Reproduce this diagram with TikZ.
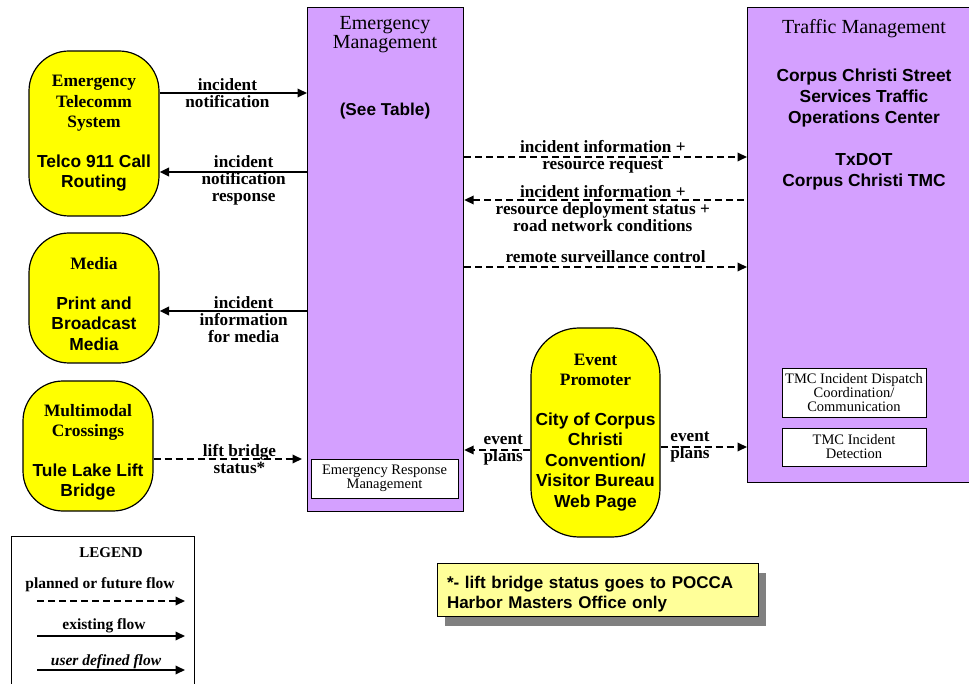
\documentclass[tikz,border=0pt]{standalone}
\usepackage{fontspec}
\setmainfont{Liberation Serif}
\setsansfont{Liberation Sans}
\usepackage{tikz}
\usetikzlibrary{arrows.meta, positioning, shadows}
\definecolor{subsystemcolor}{RGB}{212, 160, 255}
\definecolor{terminatorcolor}{RGB}{255, 255, 0}
\definecolor{notecolor}{RGB}{255, 255, 153}
\definecolor{shadowcolor}{RGB}{128, 128, 128}

\begin{document}
\begin{tikzpicture}[
    x=1pt, y=-1pt,
    subsystem/.style={draw, line width=1.2pt, fill=subsystemcolor, anchor=north west},
    terminator/.style={draw, line width=1.2pt, fill=terminatorcolor, rounded corners=40pt, minimum width=130pt, align=center, inner sep=2pt, font=\sffamily\bfseries\fontsize{17.4}{20.5}\selectfont},
    package/.style={draw, line width=0.8pt, fill=white, align=center, inner sep=1pt, font=\fontsize{14.5}{14}\selectfont},
    flow/.style={line width=2pt, -{Triangle[length=9.5pt, width=8.5pt]}},
    back/.style={line width=2pt, {Triangle[length=9.5pt, width=8.5pt]}-},
    planned/.style={flow, dash pattern=on 7pt off 4pt},
    plannedback/.style={back, dash pattern=on 7pt off 4pt},
    flowlabel/.style={align=center, inner sep=0pt, font=\bfseries\fontsize{17.2}{17}\selectfont},
]
    \clip (0,0) rectangle (969,684);

    % Subsystems
    \node[subsystem, minimum width=156pt, minimum height=504pt] (em) at (307,7) {};
    \node[font=\fontsize{20}{19}\selectfont, align=center] (emtitle) at (385,35) {Emergency\\Management};
    \node[font=\sffamily\bfseries\fontsize{17.2}{20}\selectfont] (emtable) at (385,111) {(See Table)};

    \node[subsystem, minimum width=235pt, minimum height=475pt] (tm) at (747,7) {};
    \node[font=\fontsize{20}{19}\selectfont] (tmtitle) at (864,28.5) {Traffic Management};
    \node[font=\sffamily\bfseries\fontsize{17.4}{21}\selectfont, align=center] (tmcenters) at (864,130) {Corpus Christi Street\\Services Traffic\\Operations Center\\[21pt]TxDOT\\Corpus Christi TMC};

    % Packages
    \node[package, minimum width=147pt, minimum height=39pt] (erm) at (384.5,478.5) {Emergency Response\\Management};
    \node[package, minimum width=144pt, minimum height=49pt] (dispatch) at (854,392.5) {TMC Incident Dispatch\\Coordination/\\Communication};
    \node[package, minimum width=144pt, minimum height=38pt] (detection) at (854,447) {TMC Incident\\Detection};

    % Terminators
    \node[terminator, minimum height=165pt] (telecomm) at (94,133.5) {\textrm{Emergency}\\\textrm{Telecomm}\\\textrm{System}\\[19pt]Telco 911 Call\\Routing};
    \node[terminator, minimum height=130pt] (media) at (94,298) {\mbox{}\\[4pt]\textrm{Media}\\[19pt]Print and\\Broadcast\\Media};
    \node[terminator, minimum height=130pt] (crossing) at (88,446) {\mbox{}\\[4pt]\textrm{Multimodal}\\\textrm{Crossings}\\[19pt]Tule Lake Lift\\Bridge};
    \node[terminator, minimum width=129pt, minimum height=209pt, rounded corners=48pt] (promoter) at (595.5,432.5) {\textrm{Event}\\\textrm{Promoter}\\[19pt]City of Corpus\\Christi\\Convention/\\Visitor Bureau\\Web Page};

    % Flows
    \draw[flow] ([yshift=40.5pt]telecomm.east) coordinate (n1) -- (n1 -| em.west) node[flowlabel, pos=0.46] {incident\\notification};
    \draw[back] ([yshift=-38.5pt]telecomm.east) coordinate (n2) -- (n2 -| em.west) node[flowlabel, pos=0.57, yshift=-8.5pt] {incident\\notification\\response};
    \draw[back] ([yshift=-13pt]media.east) coordinate (n3) -- (n3 -| em.west) node[flowlabel, pos=0.57, yshift=-8.5pt] {incident\\information\\for media};
    \draw[planned, shorten >=5pt] ([yshift=-13pt]crossing.east) coordinate (n4) -- (n4 -| em.west) node[flowlabel, pos=0.56] {lift bridge\\status*};

    \draw[planned] ([yshift=-150pt]em.north east) coordinate (r1) -- (r1 -| tm.west) node[flowlabel, pos=0.49] {incident information +\\resource request};
    \draw[plannedback] ([yshift=-193pt]em.north east) coordinate (r2) -- (r2 -| tm.west) node[flowlabel, pos=0.49, yshift=-8.5pt] {incident information +\\resource deployment status +\\road network conditions};
    \draw[planned] ([yshift=-260pt]em.north east) coordinate (r3) -- (r3 -| tm.west) node[flowlabel, pos=0.5, above=3pt] {remote surveillance control};

    \draw[planned] ([yshift=-17.5pt]promoter.west) coordinate (e1) -- (e1 -| em.east) node[flowlabel, pos=0.41] {event\\plans};
    \draw[planned] ([yshift=-14.5pt]promoter.east) coordinate (e2) -- (e2 -| tm.west) node[flowlabel, pos=0.34] {event\\plans};

    % Legend
    \node[draw, line width=1pt, minimum width=183pt, minimum height=170pt, anchor=north west] (legend) at (11,536) {};
    \node[font=\bfseries\fontsize{15}{15}\selectfont] (legendtitle) at (111,553) {LEGEND};
    \node[flowlabel, font=\bfseries\fontsize{15.5}{16}\selectfont] (lgplanned) at (100,585) {planned or future flow};
    \node[flowlabel, font=\bfseries\fontsize{15.5}{16}\selectfont] (lgexisting) at (104,626) {existing flow};
    \node[flowlabel, font=\bfseries\itshape\fontsize{15.5}{16}\selectfont] (lguser) at (106,662) {user defined flow};
    \coordinate (lp1) at (37,601); \coordinate (lp2) at (185,601);
    \coordinate (le1) at (37,636); \coordinate (le2) at (185,636);
    \coordinate (lu1) at (37,670); \coordinate (lu2) at (185,670);
    \draw[planned] (lp1) -- (lp2);
    \draw[flow] (le1) -- (le2);
    \draw[flow] (lu1) -- (lu2);

    % Note
    \node[draw, line width=0.8pt, fill=notecolor, drop shadow={shadow xshift=8pt, shadow yshift=-10pt, fill=shadowcolor, opacity=1}, minimum height=53pt, text width=301pt, inner xsep=10pt, inner ysep=1pt, align=left, font=\sffamily\bfseries\fontsize{17}{20}\selectfont] (note) at (597.5,589.5) {\mbox{}\\[2pt]*- lift bridge status goes to POCCA\\Harbor Masters Office only};
\end{tikzpicture}
\end{document}
